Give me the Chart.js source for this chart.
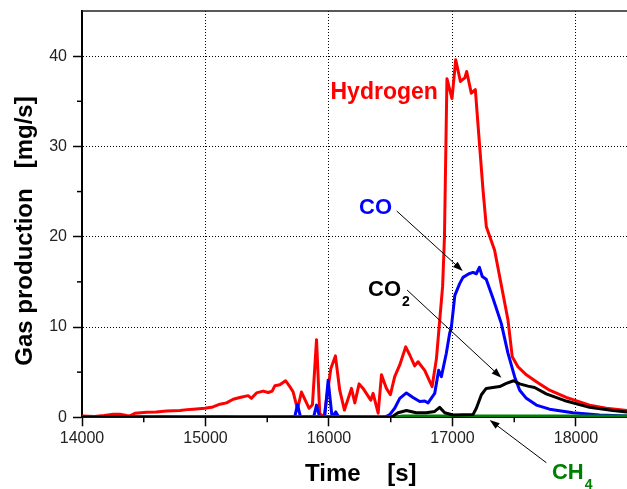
<!DOCTYPE html>
<html>
<head>
<meta charset="utf-8">
<script src="https://cdn.jsdelivr.net/npm/chart.js@4/dist/chart.umd.min.js"></script>
<style>
  html, body { margin: 0; padding: 0; background: #fff; }
  #wrap { width: 627px; height: 489px; }
</style>
</head>
<body>
<div id="wrap"><canvas id="c" width="627" height="489"></canvas></div>
<script>
// ---- Data ----
const h2Time = [14000,14100,14180,14253,14307,14361,14388,14429,14523,14600,14685,14793,14850,14901,14995,15060,15117,15170,15224,15278,15345,15372,15413,15467,15508,15540,15562,15602,15648,15683,15710,15745,15777,15839,15866,15899,15925,15960,16015,16052,16087,16125,16182,16209,16244,16276,16338,16357,16398,16425,16465,16497,16532,16573,16621,16654,16694,16721,16775,16835,16870,16895,16920,16935,16955,16996,17026,17064,17100,17115,17152,17185,17220,17247,17274,17341,17449,17484,17530,17598,17679,17786,17921,18110,18245,18413];
const h2Rate = [0.15,0.1,0.2,0.35,0.35,0.2,0.15,0.45,0.55,0.6,0.7,0.75,0.85,0.9,1.0,1.15,1.45,1.6,2.0,2.2,2.4,2.1,2.7,2.9,2.75,2.9,3.5,3.6,4.05,3.4,2.8,0.9,2.8,1.0,1.4,8.6,0.4,0.05,5.4,6.8,3.0,0.8,3.2,1.6,3.7,3.2,1.9,2.65,0.45,4.7,3.2,2.5,4.5,5.8,7.8,6.9,5.7,6.15,5.2,3.4,6.5,10.5,14.5,20,37.5,35.3,39.6,37.2,37.6,38.3,35.9,36.3,30.0,25.2,21.1,18.5,10.8,6.7,5.6,4.7,3.95,3.0,2.2,1.35,1.0,0.75];

const coTime = [14000,15700,15722,15745,15770,15875,15899,15925,15965,15993,16025,16055,16080,16450,16492,16532,16573,16627,16680,16735,16775,16802,16856,16888,16910,16950,16977,16991,17019,17058,17085,17133,17166,17193,17218,17241,17273,17327,17395,17449,17503,17544,17598,17679,17786,17975,18191,18413];
const coRate = [0.05,0,0,1.4,0,0,1.35,0,0,4.1,0,0.6,0,0,0.3,1.0,2.1,2.7,2.2,1.75,1.8,1.6,2.65,5.2,4.5,7.1,9.3,10.0,13.5,14.8,15.5,15.9,16.05,15.9,16.6,15.6,15.3,13.2,10.4,7.1,4.5,3.0,2.1,1.35,0.9,0.5,0.25,0.15];

const co2Time = [14000,16505,16559,16627,16707,16788,16856,16896,16937,17004,17166,17193,17234,17273,17327,17382,17436,17495,17544,17611,17665,17759,17921,18110,18298,18413];
const co2Rate = [0,0,0.5,0.75,0.5,0.5,0.65,1.1,0.5,0.25,0.3,1.0,2.5,3.2,3.3,3.4,3.75,4.05,3.7,3.45,3.3,2.6,1.8,1.1,0.75,0.6];

const ch4Time = [14000,14700,14800,15150,15300,16000,16550,16600,17000,17500,18413];
const ch4Rate = [0.05,0.1,0.05,0.1,0.05,0.1,0.05,0.15,0.15,0.15,0.15];

const xMin = 14000, xMax = 18413, xLabelEvery = 1000;
const yMin = 0, yMax = 45, yLabelEvery = 10;
const xTickValues = [14000,14500,15000,15500,16000,16500,17000,17500,18000];
const yTickValues = [0,5,10,15,20,25,30,35,40];

// Annotation labels (data coordinates)
const labelTexts = ['Hydrogen', 'CO', 'CO', 'CH'];
const labelSubs = ['', '', '2', '4'];
const labelX = [16012, 16243, 16316, 17805];
const labelY = [35.3, 22.5, 13.43, -6.87];
const labelColors = ['#ff0000', '#0000ff', '#000000', '#008000'];
// Arrows (data coordinates): start -> head
const arrowX1 = [16548, 16632, 17760];
const arrowY1 = [22.85, 14.1, -5.03];
const arrowX2 = [17083, 17396, 17301];
const arrowY2 = [16.2, 4.39, -0.3];

const FONT = '"Liberation Sans", Arial, Helvetica, sans-serif';
Chart.defaults.font.family = FONT;

function pts(t, v) { return t.map((x, i) => ({ x: x, y: v[i] })); }

const overlay = {
  id: 'overlay',
  afterDraw(chart) {
    const ctx = chart.ctx;
    const xs = chart.scales.x, ys = chart.scales.y;
    const a = chart.chartArea;
    ctx.save();
    // top frame
    ctx.strokeStyle = '#222';
    ctx.lineWidth = 1.5;
    ctx.beginPath();
    ctx.moveTo(a.left, a.top);
    ctx.lineTo(a.right + 2, a.top);
    ctx.stroke();
    // minor ticks
    ctx.strokeStyle = '#000';
    ctx.lineWidth = 1.5;
    xTickValues.forEach(v => {
      if (v % xLabelEvery === 0) return;
      const px = xs.getPixelForValue(v);
      ctx.beginPath(); ctx.moveTo(px, a.bottom); ctx.lineTo(px, a.bottom + 5); ctx.stroke();
    });
    yTickValues.forEach(v => {
      if (v % yLabelEvery === 0) return;
      const py = ys.getPixelForValue(v);
      ctx.beginPath(); ctx.moveTo(a.left, py); ctx.lineTo(a.left - 5, py); ctx.stroke();
    });
    // arrows
    ctx.strokeStyle = '#000';
    ctx.fillStyle = '#000';
    ctx.lineWidth = 1;
    for (let i = 0; i < arrowX1.length; i++) {
      const x1 = xs.getPixelForValue(arrowX1[i]), y1 = ys.getPixelForValue(arrowY1[i]);
      const x2 = xs.getPixelForValue(arrowX2[i]), y2 = ys.getPixelForValue(arrowY2[i]);
      const ang = Math.atan2(y2 - y1, x2 - x1);
      const L = 10, W = 3.5;
      ctx.beginPath(); ctx.moveTo(x1, y1);
      ctx.lineTo(x2 - Math.cos(ang) * L * 0.8, y2 - Math.sin(ang) * L * 0.8); ctx.stroke();
      ctx.beginPath();
      ctx.moveTo(x2, y2);
      ctx.lineTo(x2 - Math.cos(ang) * L - Math.sin(ang) * W, y2 - Math.sin(ang) * L + Math.cos(ang) * W);
      ctx.lineTo(x2 - Math.cos(ang) * L + Math.sin(ang) * W, y2 - Math.sin(ang) * L - Math.cos(ang) * W);
      ctx.closePath(); ctx.fill();
    }
    // labels
    ctx.textBaseline = 'alphabetic';
    ctx.textAlign = 'left';
    for (let i = 0; i < labelTexts.length; i++) {
      const px = xs.getPixelForValue(labelX[i]), py = ys.getPixelForValue(labelY[i]);
      const size = i === 0 ? 23 : 22;
      ctx.font = 'bold ' + size + 'px ' + FONT;
      ctx.fillStyle = labelColors[i];
      ctx.fillText(labelTexts[i], px, py);
      if (labelSubs[i]) {
        const w = ctx.measureText(labelTexts[i]).width;
        ctx.font = 'bold 14px ' + FONT;
        ctx.fillText(labelSubs[i], px + w + 1, py + 10);
      }
    }
    // axis titles
    ctx.fillStyle = '#000';
    ctx.font = 'bold 24px ' + FONT;
    ctx.textAlign = 'left';
    ctx.fillText('Time    [s]', 305, 481);
    ctx.save();
    ctx.translate(32, 231);
    ctx.rotate(-Math.PI / 2);
    ctx.textAlign = 'center';
    ctx.fillText('Gas production   [mg/s]', 0, 0);
    ctx.restore();
    ctx.restore();
  }
};

new Chart(document.getElementById('c'), {
  type: 'line',
  data: {
    datasets: [
      { label: 'CO2', data: pts(co2Time, co2Rate), borderColor: '#000000', order: 1 },
      { label: 'CH4', data: pts(ch4Time, ch4Rate), borderColor: '#008000', order: 2 },
      { label: 'CO', data: pts(coTime, coRate), borderColor: '#0000ff', order: 3 },
      { label: 'Hydrogen', data: pts(h2Time, h2Rate), borderColor: '#ff0000', order: 4 }
    ]
  },
  options: {
    responsive: false,
    animation: false,
    layout: { padding: { top: 11, right: 0, left: 0, bottom: 0 } },
    elements: {
      line: { borderWidth: 3, tension: 0, borderJoinStyle: 'round', borderCapStyle: 'round', fill: false },
      point: { radius: 0, hoverRadius: 0 }
    },
    plugins: { legend: { display: false }, tooltip: { enabled: false } },
    scales: {
      x: {
        type: 'linear',
        min: xMin, max: xMax,
        afterFit(s) { s.height = 71.7; s.paddingLeft = 0; s.paddingRight = 0; },
        afterBuildTicks(s) { s.ticks = xTickValues.map(v => ({ value: v })); },
        ticks: {
          autoSkip: false, maxRotation: 0,
          padding: 3, color: '#222', font: { size: 16 },
          callback: v => (v % xLabelEvery === 0 ? String(v) : '')
        },
        grid: {
          color: c => (c.tick && c.tick.value % xLabelEvery === 0 && c.tick.value !== xMin ? '#000' : 'rgba(0,0,0,0)'),
          tickColor: c => (c.tick && c.tick.value % xLabelEvery === 0 ? '#000' : 'rgba(0,0,0,0)'),
          lineWidth: 1, tickLength: 9, tickWidth: 1.5
        },
        border: { display: true, color: '#000', width: 2, dash: [1, 2] }
      },
      y: {
        min: yMin, max: yMax,
        afterFit(s) { s.width = 82; s.paddingTop = 0; s.paddingBottom = 0; },
        afterBuildTicks(s) { s.ticks = yTickValues.map(v => ({ value: v })); },
        ticks: {
          autoSkip: false, padding: 6, color: '#222', font: { size: 16 },
          callback: v => (v % yLabelEvery === 0 ? String(v) : '')
        },
        grid: {
          color: c => (c.tick && c.tick.value % yLabelEvery === 0 && c.tick.value !== yMin ? '#000' : 'rgba(0,0,0,0)'),
          tickColor: c => (c.tick && c.tick.value % yLabelEvery === 0 ? '#000' : 'rgba(0,0,0,0)'),
          lineWidth: 1, tickLength: 9, tickWidth: 1.5
        },
        border: { display: true, color: '#000', width: 2, dash: [1, 2] }
      }
    }
  },
  plugins: [overlay]
});
</script>
</body>
</html>
